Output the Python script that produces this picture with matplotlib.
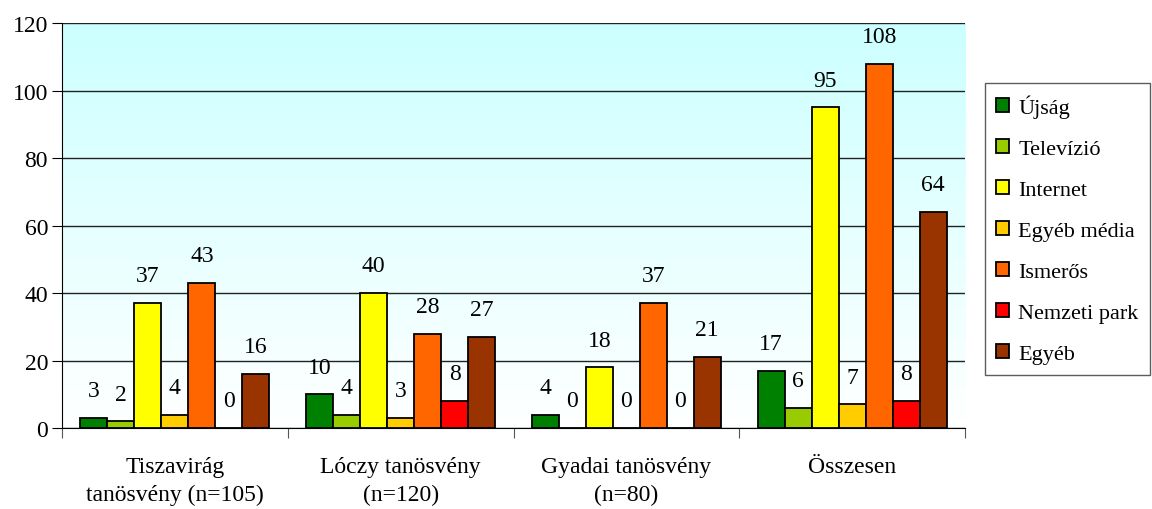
import numpy as np
import matplotlib.pyplot as plt
from matplotlib.colors import LinearSegmentedColormap

plt.rcParams['font.family'] = ['Liberation Serif', 'DejaVu Serif']

# Adatok: honnan hallottak a tanösvényről
csoportok = ['Tiszavirág\ntanösvény (n=105)', 'Lóczy tanösvény\n(n=120)',
             'Gyadai tanösvény\n(n=80)', 'Összesen']
forrasok = ['Újság', 'Televízió', 'Internet', 'Egyéb média', 'Ismerős',
            'Nemzeti park', 'Egyéb']
ujsag = [3, 10, 4, 17]
televizio = [2, 4, 0, 6]
internet = [37, 40, 18, 95]
egyeb_media = [4, 3, 0, 7]
ismeros = [43, 28, 37, 108]
nemzeti_park = [0, 8, 0, 8]
egyeb = [16, 27, 21, 64]
szinek = ['#008000', '#99CC00', '#FFFF00', '#FFCC00', '#FF6600', '#FF0000', '#993300']

sorozatok = [ujsag, televizio, internet, egyeb_media, ismeros, nemzeti_park, egyeb]

fig = plt.figure(figsize=(11.52, 5.1), dpi=100)
ax = fig.add_axes([0.0538, 0.1588, 0.7839, 0.7941])

# Háttér színátmenet (világoskék -> fehér)
cmap = LinearSegmentedColormap.from_list('hatter', ['#FFFFFF', '#CCFFFF'])
grad = np.linspace(0, 1, 256).reshape(-1, 1)
ax.imshow(grad, cmap=cmap, aspect='auto', origin='lower',
          extent=[0, 1, 0, 1], transform=ax.transAxes, zorder=0)

x = np.arange(len(csoportok))
w = 1 / (len(forrasok) + 1.37)
for i, (nev, ertekek, szin) in enumerate(zip(forrasok, sorozatok, szinek)):
    pos = x + (i - (len(forrasok) - 1) / 2) * w
    bars = ax.bar(pos, ertekek, w, color=szin, edgecolor='black',
                  linewidth=1.3, label=nev, zorder=3)
    for b, v in zip(bars, ertekek):
        ax.annotate(str(v), (b.get_x() + b.get_width() / 2, v),
                    xytext=(0, 12), textcoords='offset points',
                    ha='center', va='bottom', fontsize=17, zorder=4,
                    annotation_clip=False)

ax.set_xlim(-0.5, len(csoportok) - 0.5)
ax.set_ylim(0, 120)
ax.set_yticks(np.arange(0, 121, 20))
ax.yaxis.grid(True, color='#222222', linewidth=1)
ax.set_axisbelow(True)

# csoporthatárok tick-ként, feliratok középen
ax.set_xticks(np.arange(-0.5, len(csoportok), 1))
ax.set_xticklabels([])
ax.set_xticks(x, minor=True)
ax.set_xticklabels(csoportok, minor=True, fontsize=17, linespacing=1.45)
ax.tick_params(axis='x', which='minor', length=0, pad=20)
ax.tick_params(axis='x', which='major', length=7, color='#555555')
ax.tick_params(axis='y', length=7, labelsize=17, pad=3)

for s in ['top', 'right']:
    ax.spines[s].set_visible(False)
ax.spines['left'].set_color('black')
ax.spines['bottom'].set_color('black')

leg = fig.legend(loc='upper left', bbox_to_anchor=(0.855, 0.835),
                 fontsize=16, frameon=True, fancybox=False, edgecolor='#333333',
                 handlelength=0.6, handleheight=0.6, handletextpad=0.4,
                 labelspacing=0.95, borderpad=0.5, borderaxespad=0)
leg.get_frame().set_linewidth(1)

fig.savefig('out.png', dpi=100)
